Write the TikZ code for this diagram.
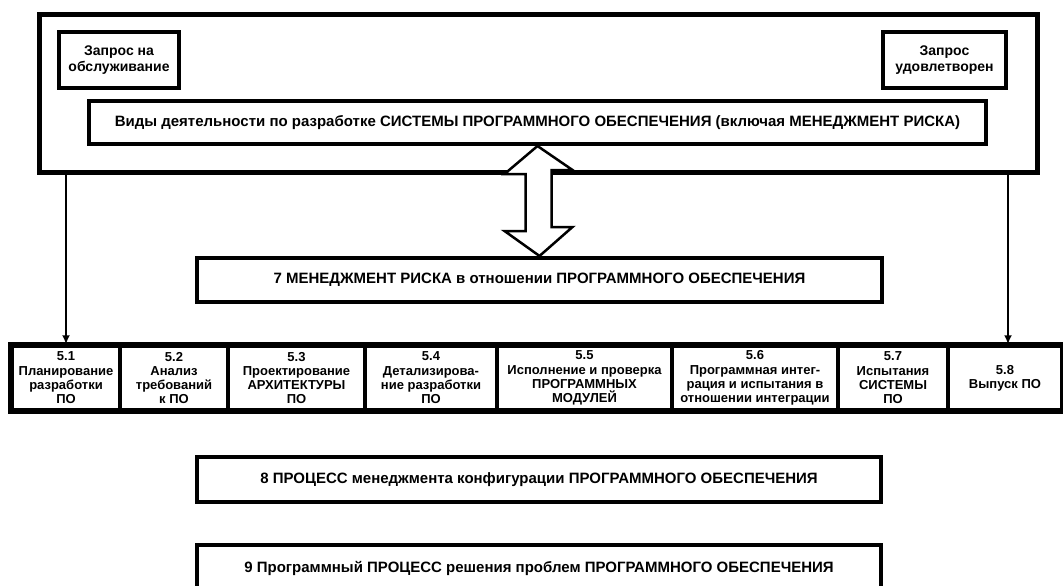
\documentclass[tikz,border=0pt]{standalone}
\usepackage{fontspec}
\setmainfont{Liberation Sans}
\usetikzlibrary{arrows.meta,calc}
\tikzset{
  box/.style={draw=black, line width=4pt, fill=white, inner sep=0pt, align=center, font=\bfseries\fontsize{15}{17}\selectfont},
  reqbox/.style={draw=black, line width=4pt, fill=white, inner sep=0pt, align=center, font=\bfseries\fontsize{14}{16}\selectfont},
  bigbox/.style={draw=black, line width=5pt, inner sep=0pt},
  cell/.style={draw=black, line width=3.5pt, inner sep=0pt, align=center, font=\bfseries\fontsize{13}{14.3}\selectfont},
  arr/.style={line width=2.5pt, -{Latex[length=9pt,width=8pt]}},
  hollow/.style={draw=black, line width=2.5pt, fill=white, line join=miter}
}
\begin{document}
\begin{tikzpicture}[x=1pt,y=-1pt]
\useasboundingbox (0,0) rectangle (1063,586);
\fill[white] (0,0) rectangle (1063,586);
\clip (0,0) rectangle (1063,586);
% top frame
\node[bigbox, minimum width=998pt, minimum height=157pt] (outer) at (538,93.5) {};
\node[reqbox, minimum width=120pt, minimum height=56pt] (req) at (119,60) {Запрос на\\обслуживание};
\node[reqbox, minimum width=123pt, minimum height=56pt] (done) at (944.5,60) {Запрос\\удовлетворен};
\node[box, minimum width=897pt, minimum height=43pt] (vid) at (537.5,122.5) {Виды деятельности по разработке СИСТЕМЫ ПРОГРАММНОГО ОБЕСПЕЧЕНИЯ (включая МЕНЕДЖМЕНТ РИСКА)};
% risk box
\node[box, minimum width=685pt, minimum height=44pt] (risk) at (539.5,280) {7 МЕНЕДЖМЕНТ РИСКА в отношении ПРОГРАММНОГО ОБЕСПЕЧЕНИЯ};
% double hollow arrow
\draw[hollow] (vid.south) -- ++(-33,28) -- ++(21,0) -- ++(0,57) -- ++(-21,0) -- (risk.north)
  -- ++(33,-29) -- ++(-21,0) -- ++(0,-57) -- ++(21,0) -- cycle;
% row of activities
\node[cell, minimum width=108pt, minimum height=64pt] (c1) at (66,378) {5.1\\Планирование\\разработки\\ПО};
\node[cell, minimum width=108pt, minimum height=64pt] (c2) at (174,378) {5.2\\Анализ\\требований\\к ПО};
\node[cell, minimum width=137pt, minimum height=64pt] (c3) at (296.5,378) {5.3\\Проектирование\\АРХИТЕКТУРЫ\\ПО};
\node[cell, minimum width=132pt, minimum height=64pt] (c4) at (431,378) {5.4\\Детализирова-\\ние разработки\\ПО};
\node[cell, minimum width=175pt, minimum height=64pt] (c5) at (584.5,378) {5.5\\Исполнение и проверка\\ПРОГРАММНЫХ\\МОДУЛЕЙ};
\node[cell, minimum width=166pt, minimum height=64pt] (c6) at (755,378) {5.6\\Программная интег-\\рация и испытания в\\отношении интеграции};
\node[cell, minimum width=110pt, minimum height=64pt] (c7) at (893,378) {5.7\\Испытания\\СИСТЕМЫ\\ПО};
\node[cell, minimum width=114pt, minimum height=64pt] (c8) at (1005,378) {5.8\\Выпуск ПО};
\draw[line width=5pt] (c1.north west) rectangle (c8.south east);
% arrows from frame to row
\draw[arr] (c1.north |- outer.south) -- (c1.north);
\draw[arr] ([xshift=3pt]c8.north |- outer.south) -- ([xshift=3pt]c8.north);
% supporting processes
\node[box, minimum width=684pt, minimum height=45pt] (cfg) at (539,479.5) {8 ПРОЦЕСС менеджмента конфигурации ПРОГРАММНОГО ОБЕСПЕЧЕНИЯ};
\node[box, minimum width=684pt, minimum height=47pt] (prob) at (539,568.5) {9 Программный ПРОЦЕСС решения проблем ПРОГРАММНОГО ОБЕСПЕЧЕНИЯ};
\end{tikzpicture}
\end{document}
